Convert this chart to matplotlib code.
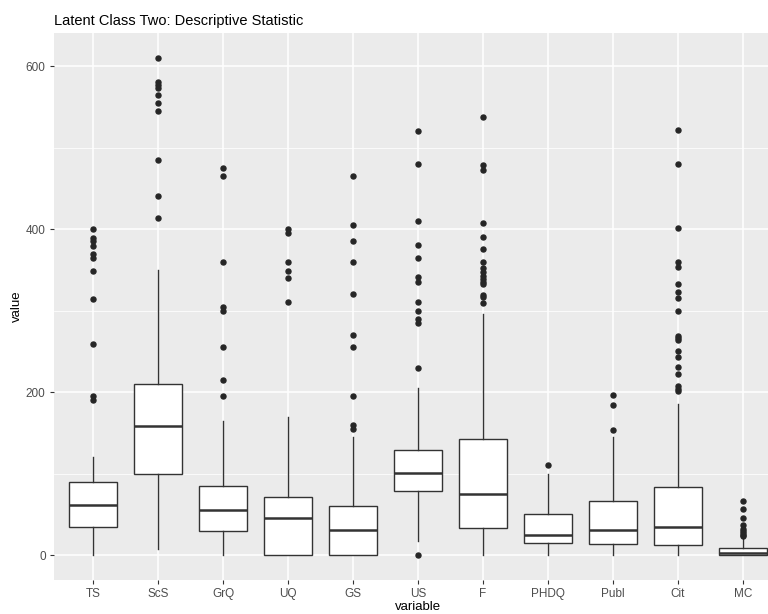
import matplotlib.pyplot as plt
from matplotlib.ticker import MultipleLocator

plt.rcParams['font.family'] = ['Liberation Sans', 'DejaVu Sans']

variables = ["TS", "ScS", "GrQ", "UQ", "GS", "US", "F", "PHDQ", "Publ", "Cit", "MC"]
q1 = [34, 100, 30, 0, 0, 79, 33.5, 15, 14, 13, 0]
med = [61, 158, 55.5, 46, 31, 100.5, 74.5, 25, 31, 35, 3]
q3 = [89.5, 210, 85, 71.5, 60.5, 129.5, 142.5, 50, 67, 84, 9]
whislo = [0, 7, 0, 0, 0, 17, 0, 0, 0, 0, 0]
whishi = [120, 350, 165, 170, 145, 205, 296, 100, 145, 185, 21]
fliers = [
    [400, 389, 385, 379, 370, 365, 349, 314, 259, 195, 190],
    [610, 580, 577, 573, 565, 555, 545, 485, 440, 414],
    [475, 465, 360, 305, 300, 255, 215, 195],
    [400, 395, 360, 349, 340, 310],
    [465, 405, 385, 360, 320, 270, 255, 195, 160, 155],
    [520, 480, 410, 380, 365, 341, 335, 310, 300, 290, 285, 230, 0],
    [537, 479, 473, 408, 390, 376, 360, 352, 347, 343, 339, 335, 332, 319, 317, 309],
    [110],
    [196, 184, 154],
    [521, 480, 401, 359, 354, 332, 323, 315, 300, 269, 266, 264, 251, 243, 231, 222, 207, 204, 201],
    [66, 57, 46, 37, 32, 29, 27, 25, 23],
]

stats = []
for i, name in enumerate(variables):
    stats.append({
        "label": name, "q1": q1[i], "med": med[i], "q3": q3[i],
        "whislo": whislo[i], "whishi": whishi[i], "fliers": fliers[i],
    })

fig = plt.figure(figsize=(7.68, 6.14), dpi=100)
ax = fig.add_axes([54 / 768, 1 - 580 / 614, 1 - 54 / 768, (580 - 33) / 614])
ax.set_facecolor("#EBEBEB")

line = "#333333"
ax.bxp(stats, positions=range(1, len(variables) + 1), widths=0.75,
       showcaps=False, patch_artist=True,
       boxprops=dict(facecolor="white", edgecolor=line, linewidth=1.0),
       medianprops=dict(color=line, linewidth=1.8),
       whiskerprops=dict(color=line, linewidth=1.0),
       flierprops=dict(marker="o", markerfacecolor="#262626",
                       markeredgecolor="#262626", markersize=3.6),
       zorder=3)

ax.set_xlim(0.4, 11.385)
ax.set_ylim(-30.5, 640.5)
ax.yaxis.set_major_locator(MultipleLocator(200))
ax.yaxis.set_minor_locator(MultipleLocator(100))
ax.grid(which="major", color="white", linewidth=1.1)
ax.grid(which="minor", axis="y", color="white", linewidth=0.55)
ax.set_axisbelow(True)
for s in ax.spines.values():
    s.set_visible(False)

ax.tick_params(which="major", length=3, width=0.8, color="#333333",
               labelsize=8.5, labelcolor="#4D4D4D", pad=3)
ax.tick_params(which="minor", length=0)

ax.set_xlabel("variable", fontsize=9.5)
ax.set_ylabel("value", fontsize=9.5, labelpad=2)
ax.xaxis.set_label_coords(0.51, -0.038)
ax.set_title("Latent Class Two: Descriptive Statistic", loc="left",
             fontsize=10.5, pad=6)

fig.savefig("out.png", dpi=100)
